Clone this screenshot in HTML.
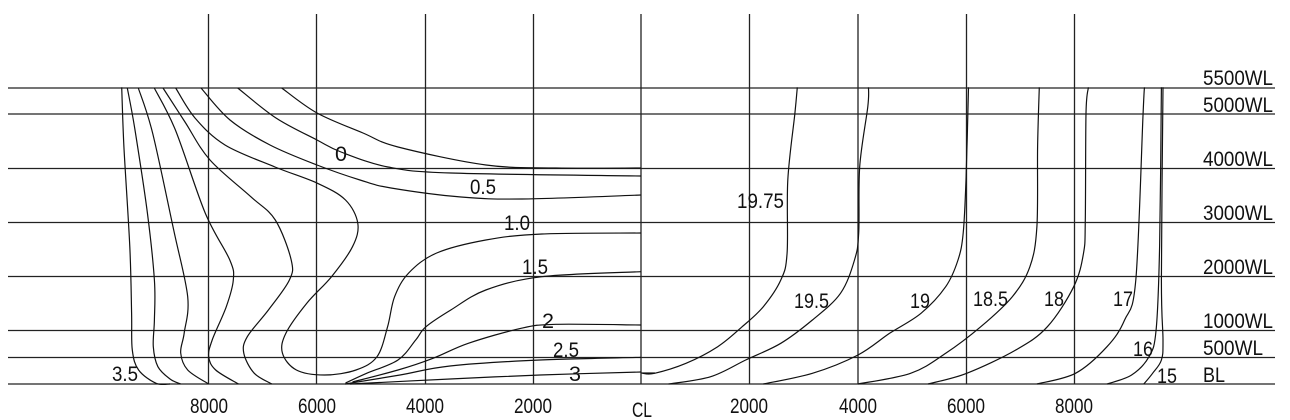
<!DOCTYPE html>
<html><head><meta charset="utf-8"><style>
html,body{margin:0;padding:0;background:#fff;}
svg{display:block;}
text{font-family:"Liberation Sans Narrow","Liberation Sans",sans-serif;font-size:21px;fill:#111;}
</style></head><body>
<svg id="s" width="1290" height="420" viewBox="0 0 1290 420" xmlns="http://www.w3.org/2000/svg">
<g stroke="#222" stroke-width="1.3" fill="none">
<line x1="8" y1="88" x2="1275" y2="88"/>
<line x1="8" y1="114" x2="1275" y2="114"/>
<line x1="8" y1="168.5" x2="1275" y2="168.5"/>
<line x1="8" y1="222.5" x2="1275" y2="222.5"/>
<line x1="8" y1="276.5" x2="1275" y2="276.5"/>
<line x1="8" y1="330.5" x2="1275" y2="330.5"/>
<line x1="8" y1="357.5" x2="1275" y2="357.5"/>
<line x1="8" y1="384" x2="1275" y2="384"/>
<line x1="208.5" y1="14" x2="208.5" y2="384"/>
<line x1="316.5" y1="14" x2="316.5" y2="384"/>
<line x1="425.5" y1="14" x2="425.5" y2="384"/>
<line x1="533.5" y1="14" x2="533.5" y2="384"/>
<line x1="641" y1="14" x2="641" y2="384"/>
<line x1="749.5" y1="14" x2="749.5" y2="384"/>
<line x1="858" y1="14" x2="858" y2="384"/>
<line x1="966.5" y1="14" x2="966.5" y2="384"/>
<line x1="1074.5" y1="14" x2="1074.5" y2="384"/>
</g>
<g id="curves" stroke="#111" stroke-width="1.2" fill="none" stroke-linejoin="round">
<polyline points="121.7,87.3 123.9,146.7 129.8,246.7 131.6,313.3 132.3,350 138.6,370 156.1,383.3 170,384"/>
<polyline points="127.3,88 135,130 147.4,213 154.4,280 154.4,320 153.3,346.7 157.9,366.7 170,379 180.7,384"/>
<polyline points="138.3,88 152.6,133 173.7,230 187.7,296.7 184.2,333 180.7,353 187.7,370 208.7,384"/>
<polyline points="154.3,88 175.4,130 205.2,213 229.8,260 233.3,280 226.3,306.7 212.2,340 208.7,356.7 215.7,370 238.5,384"/>
<polyline points="163,88 185,122 210,160 250.8,196.7 275.3,220 291.2,260 289.4,280 268.4,310 247.3,336.7 243.8,353.3 254.3,373.3 271.9,384"/>
<polyline points="175.7,88 195,118 225,145 275,167 317.5,183.3 345.5,200 357.8,223.3 352.5,246.7 331.5,276.7 307,303 286,333 282.4,353 296.4,370 324.5,375 356,370 377,356.7 387.6,326.7 394.6,296.7 408.7,273 436.7,253 485.8,240 542,234 641,233"/>
<polyline points="201,88 230,120 270,145 317,165 360,180 391,188 461,197 522,199 641,195"/>
<polyline points="237.7,88 276,118 317,140 341,152 388,167 451,173 641,176"/>
<polyline points="281.7,88 317,113 363,133 398,147 486,165 556,168 641,168"/>
<polyline points="641,271.7 542,276.7 485.8,290 450.8,310 426,326.7 415.7,340 398,360 366.6,373.3 345.5,383"/>
<polyline points="641,325 556,324.3 521,328.3 468.3,343.3 433,358.3 398,370 352.5,382"/>
<polyline points="641,357.3 540,360 450,366 400,375 345,384"/>
<polyline points="641,372 540,375 450,379 350,384"/>
<polyline points="641,373 655,373"/>
<polyline points="797.3,87.3 794.9,113.3 787.8,180 787.1,253 780.8,280 763.3,306.7 742.2,326.7 717.7,346.7 686,363.3 654.6,373.3 642.3,373.3"/>
<polyline points="868.5,87.3 867.8,106.7 859.7,166.7 858.7,233 854.5,260 840.5,293.3 812.4,320 780.8,343.3 745.7,360 710.7,376.7 668.6,384"/>
<polyline points="968.5,87.3 966,180 963.2,233 958,260 945.7,286.7 921,313.3 889.6,333.3 858,355 812.4,373.3 763.3,384"/>
<polyline points="1039.3,87.3 1037.6,146.7 1036.9,226.7 1029.9,266.7 1012.3,296.7 980.8,326.7 945.7,353.3 910.6,373.3 858,384"/>
<polyline points="1088.4,87.3 1086,113.3 1085.3,220 1083.5,253.3 1073.7,286.7 1047.4,326.7 1015.8,350 966.7,373.3 928,384"/>
<polyline points="1144.5,87.3 1143.1,113.3 1135.8,280 1124.6,320 1107,346.7 1075.5,373.3 1036.9,384"/>
<polyline points="1161.4,87.3 1159.6,246.7 1156.1,330 1149,356.7 1131.6,375 1107,384"/>
<polyline points="1163,87.3 1161.4,280 1163,340 1161.4,360 1152.6,373.3 1143.8,384"/>
</g>
<g>
<text x="335" y="161" textLength="12" lengthAdjust="spacingAndGlyphs">0</text>
<text x="470" y="194" textLength="26" lengthAdjust="spacingAndGlyphs">0.5</text>
<text x="504" y="230" textLength="26" lengthAdjust="spacingAndGlyphs">1.0</text>
<text x="522" y="274" textLength="26" lengthAdjust="spacingAndGlyphs">1.5</text>
<text x="542" y="328" textLength="12" lengthAdjust="spacingAndGlyphs">2</text>
<text x="553" y="357" textLength="26" lengthAdjust="spacingAndGlyphs">2.5</text>
<text x="569" y="381" textLength="12" lengthAdjust="spacingAndGlyphs">3</text>
<text x="112" y="381" textLength="26" lengthAdjust="spacingAndGlyphs">3.5</text>
<text x="737" y="208" textLength="47" lengthAdjust="spacingAndGlyphs">19.75</text>
<text x="794" y="308" textLength="35" lengthAdjust="spacingAndGlyphs">19.5</text>
<text x="910" y="308" textLength="20" lengthAdjust="spacingAndGlyphs">19</text>
<text x="973" y="306" textLength="35" lengthAdjust="spacingAndGlyphs">18.5</text>
<text x="1044" y="306" textLength="20" lengthAdjust="spacingAndGlyphs">18</text>
<text x="1113" y="306" textLength="20" lengthAdjust="spacingAndGlyphs">17</text>
<text x="1133" y="356" textLength="20" lengthAdjust="spacingAndGlyphs">16</text>
<text x="1157" y="383" textLength="20" lengthAdjust="spacingAndGlyphs">15</text>
<text x="1203" y="85" textLength="70" lengthAdjust="spacingAndGlyphs">5500WL</text>
<text x="1203" y="112" textLength="70" lengthAdjust="spacingAndGlyphs">5000WL</text>
<text x="1203" y="166" textLength="70" lengthAdjust="spacingAndGlyphs">4000WL</text>
<text x="1203" y="220" textLength="70" lengthAdjust="spacingAndGlyphs">3000WL</text>
<text x="1203" y="274" textLength="70" lengthAdjust="spacingAndGlyphs">2000WL</text>
<text x="1203" y="328" textLength="70" lengthAdjust="spacingAndGlyphs">1000WL</text>
<text x="1203" y="355" textLength="60" lengthAdjust="spacingAndGlyphs">500WL</text>
<text x="1203" y="382" textLength="22" lengthAdjust="spacingAndGlyphs">BL</text>
<text x="190" y="413" textLength="38" lengthAdjust="spacingAndGlyphs">8000</text>
<text x="298" y="413" textLength="38" lengthAdjust="spacingAndGlyphs">6000</text>
<text x="406" y="413" textLength="38" lengthAdjust="spacingAndGlyphs">4000</text>
<text x="514" y="413" textLength="38" lengthAdjust="spacingAndGlyphs">2000</text>
<text x="632" y="417" textLength="20" lengthAdjust="spacingAndGlyphs">CL</text>
<text x="730" y="413" textLength="38" lengthAdjust="spacingAndGlyphs">2000</text>
<text x="839" y="413" textLength="38" lengthAdjust="spacingAndGlyphs">4000</text>
<text x="947" y="413" textLength="38" lengthAdjust="spacingAndGlyphs">6000</text>
<text x="1055" y="413" textLength="38" lengthAdjust="spacingAndGlyphs">8000</text>
</g>
</svg>
<script>
(function(){
var ns="http://www.w3.org/2000/svg";
var g=document.getElementById("curves");
var pls=Array.prototype.slice.call(g.getElementsByTagName("polyline"));
pls.forEach(function(pl){
  var p=pl.getAttribute("points").trim().split(/\s+/).map(function(s){var a=s.split(",");return [+a[0],+a[1]];});
  if(p.length<3)return;
  var d="M"+p[0][0]+","+p[0][1];
  for(var i=0;i<p.length-1;i++){
    var p0=p[i-1]||p[i],p1=p[i],p2=p[i+1],p3=p[i+2]||p2;
    var c1x=p1[0]+(p2[0]-p0[0])/6,c1y=p1[1]+(p2[1]-p0[1])/6;
    var c2x=p2[0]-(p3[0]-p1[0])/6,c2y=p2[1]-(p3[1]-p1[1])/6;
    d+=" C"+c1x.toFixed(1)+","+c1y.toFixed(1)+" "+c2x.toFixed(1)+","+c2y.toFixed(1)+" "+p2[0]+","+p2[1];
  }
  var path=document.createElementNS(ns,"path");
  path.setAttribute("d",d);
  g.replaceChild(path,pl);
});
})();
</script>
</body></html>
